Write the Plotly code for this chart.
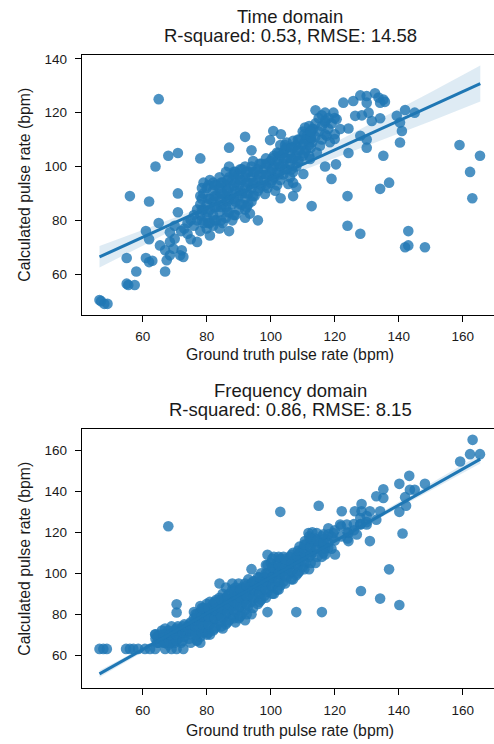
import plotly.graph_objects as go

# ---------------- DATA ----------------
# Time domain: ground truth (x) vs calculated (y)
time_truth = [
    65, 64, 68, 71, 78, 56, 62, 71, 71, 65,
    61, 62, 55, 61, 62, 63, 58, 67, 55, 55.5,
    57.5, 46.5, 47, 48, 49, 92, 87, 94, 87, 88.5,
    87, 96, 92, 93.5, 77, 81, 75, 74, 65.4, 67,
    68.5, 69.6, 71.7, 72.7, 67.5, 68.5, 70, 72.2, 68.5, 73,
    124, 124, 128, 119, 112.8, 134.2, 137, 135.2, 124.3, 120.4,
    117, 130, 140.4, 141, 140.4, 139.4, 142, 145, 143, 143,
    142, 148.2, 159, 162.3, 163, 165.4, 114, 122.7, 125.8, 128,
    130, 132.6, 133.7, 135.2, 135.7, 134.2, 130, 126.4, 128.5, 130.6,
    131.6, 134.2, 119.6, 120.6, 117, 121.7, 124.3, 128, 130, 117.5,
    115.4, 111.3, 110.7, 113.3, 112.7, 118.5, 120, 114.4, 112.3, 110.2,
    107, 107, 108, 105.5, 103.1, 101.4, 98.2, 100.8, 103.2, 99.8,
    105, 107, 104.5, 102, 70, 72, 74, 75,
    76, 76, 77, 77, 78, 78, 78, 78, 79, 79, 79, 79,
    80, 80, 80, 80, 81, 81, 81, 81, 82, 82, 82, 82, 82,
    83, 83, 83, 83, 84, 84, 84, 84, 84, 85, 85, 85, 85,
    86, 86, 86, 86, 86, 87, 87, 87, 87, 88, 88, 88, 88,
    89, 89, 89, 89, 89, 90, 90, 90, 90, 91, 91, 91, 91,
    92, 92, 92, 92, 92, 93, 93, 93, 93, 94, 94, 94, 94,
    95, 95, 95, 96, 96, 96, 97, 97, 97, 98, 98, 99, 99, 99,
    100, 100, 100, 101, 101, 101, 102, 102, 102, 103, 103, 103, 103,
    104, 104, 104, 105, 105, 105, 106, 106, 106, 107, 107, 107,
    108, 108, 108, 109, 109, 109, 110, 110, 110, 111, 111,
    112, 112, 112, 113, 113, 114, 114, 115, 115, 116, 116, 116,
    117, 117, 117, 118, 118, 119, 120, 120,
]
time_calc = [
    125, 100, 104, 105, 103, 89, 87, 90, 83, 79,
    76, 73, 66, 66, 64.5, 65, 61, 61, 56.5, 56,
    56, 50.4, 50, 49, 49, 111, 107, 106, 100, 98,
    76, 80, 84, 82.5, 72, 74.4, 73, 75, 70.7, 68.9,
    67, 69.5, 67, 66.4, 65.2, 72, 73.2, 68.9, 75.6, 77,
    89, 78, 75, 95.4, 85.3, 91.7, 94, 104, 105, 100.8,
    100, 107, 108.9, 113.2, 116.3, 118.8, 121, 120, 76, 70.7,
    70, 70, 108, 98, 88.2, 104, 120.9, 123.7, 124.3, 126.4,
    126.2, 127.2, 125.6, 124.9, 124, 123.7, 123.7, 118.8, 119, 120,
    116.9, 117.9, 120, 117.5, 116.3, 113.9, 114.1, 111.4, 110, 111.4,
    107.7, 111.4, 114.5, 113.9, 110.2, 109, 110.2, 105.2, 102.8, 97.2,
    94, 89, 92.3, 93.5, 88.2, 91, 89.8, 113.2, 112, 109.8,
    108.9, 109.5, 106.5, 105.2, 78, 76, 79, 80,
    78, 82, 80, 84, 76, 82, 86, 89, 79, 84, 90, 94,
    77, 81, 86, 92, 79, 84, 88, 95, 78, 82, 87, 91, 94,
    80, 85, 89, 93, 77, 83, 88, 92, 96, 79, 86, 90, 94,
    81, 85, 89, 93, 98, 83, 88, 92, 96, 80, 86, 90, 95,
    82, 87, 91, 94, 98, 84, 89, 93, 97, 86, 90, 95, 99,
    81, 88, 92, 96, 100, 86, 90, 94, 98, 87, 92, 96, 100,
    89, 94, 98, 91, 95, 99, 93, 97, 101, 95, 99, 92, 97, 101,
    94, 98, 102, 96, 100, 104, 93, 98, 102, 95, 100, 104, 108,
    97, 101, 105, 99, 103, 107, 96, 101, 105, 98, 103, 107,
    100, 104, 108, 102, 106, 110, 104, 108, 113, 106, 110,
    104, 108, 115, 109, 114, 111, 116, 113, 118, 110, 115, 119,
    112, 117, 120, 114, 118, 116, 112, 118,
]
# extra points inside the dense time-domain cluster
time_truth_fill = [
    78.5, 78.5, 78.5, 78.5, 80.5, 80.5, 80.5, 80.5,
    82.5, 82.5, 82.5, 82.5, 84.5, 84.5, 84.5, 84.5,
    86.5, 86.5, 86.5, 86.5, 88.5, 88.5, 88.5, 88.5,
    90.5, 90.5, 90.5, 90.5, 92.5, 92.5, 92.5, 92.5,
    94.5, 94.5, 94.5, 94.5, 96.5, 96.5, 96.5,
    98.5, 98.5, 98.5, 98.5, 100.5, 100.5, 100.5,
    102.5, 102.5, 102.5, 104.5, 104.5, 104.5,
    106.5, 106.5, 106.5, 108.5, 108.5, 108.5,
    110.5, 110.5, 110.5, 112.5, 112.5, 112.5,
]
time_calc_fill = [
    80, 84, 88, 92, 79, 83, 88, 93,
    80, 85, 89, 93, 80, 85, 90, 94,
    83, 87, 91, 95, 82, 88, 93, 97,
    86, 91, 95, 99, 85, 90, 94, 98,
    89, 94, 98, 102, 92, 97, 101,
    93, 97, 101, 103, 95, 99, 103,
    97, 101, 105, 99, 103, 108,
    99, 103, 107, 102, 106, 110,
    105, 109, 112, 107, 111, 113,
]

# Frequency domain: ground truth (x) vs calculated (y)
freq_truth = [
    68, 103, 115, 99, 108, 116, 128.2, 134.2, 137, 140.2,
    131, 141.2, 140.2, 140.2, 143.3, 148.2, 143.5, 145, 142, 142.3,
    135.2, 135.2, 133, 128.4, 126.3, 128.4, 131, 134.2, 122.2, 159.2,
    162.3, 165.4, 163.1, 46.5, 47.7, 48.8, 54.8, 56, 57.1, 58.6,
    60.7, 62.3, 63.9, 67, 69, 70.6, 72.7, 70.6, 70.6, 63.9,
    65.4, 119.6, 120.1, 124.3, 124.3, 126.9, 121.7, 123.8, 111.8, 114.4,
    110.7, 112.8, 115.4, 117, 118, 128, 130, 133, 76.9, 75,
    78, 80,
    64, 64, 65, 65, 66, 66, 67, 67, 67, 68, 68, 68, 69, 69, 69,
    70, 70, 70, 71, 71, 71, 72, 72, 72, 73, 73, 73, 74, 74, 75, 75, 75,
    76, 76, 76, 76, 77, 77, 77, 77, 78, 78, 78, 78, 78, 79, 79, 79, 79,
    80, 80, 80, 80, 81, 81, 81, 81, 81, 82, 82, 82, 82, 83, 83, 83, 83,
    84, 84, 84, 84, 84, 85, 85, 85, 85, 85, 86, 86, 86, 86, 86,
    87, 87, 87, 87, 88, 88, 88, 88, 88, 89, 89, 89, 89, 89,
    90, 90, 90, 90, 90, 91, 91, 91, 91, 92, 92, 92, 92, 92,
    93, 93, 93, 93, 94, 94, 94, 94, 94, 95, 95, 95, 96, 96, 96, 96,
    97, 97, 97, 97, 98, 98, 98, 99, 99, 99, 99, 99,
    100, 100, 100, 100, 101, 101, 101, 101, 101, 102, 102, 102, 102,
    103, 103, 103, 103, 104, 104, 104, 104, 105, 105, 105, 106, 106, 106,
    107, 107, 107, 107, 108, 108, 108, 109, 109, 109, 109, 110, 110, 110,
    111, 111, 111, 112, 112, 112, 112, 113, 113, 113, 114, 114, 114,
    116, 116, 116, 117, 117, 118, 118, 118, 119, 119, 120, 120,
    122, 122, 124, 124, 126, 126, 128, 128, 130, 130,
]
freq_calc = [
    123, 130, 133, 81, 81, 81, 91.3, 87.6, 101.9, 84.5,
    115.7, 119.4, 130, 143.7, 147.6, 143.7, 140.8, 140.8, 137.2, 133,
    141, 136.8, 137.6, 133.8, 130.3, 130.3, 130.3, 130.3, 130.3, 154.6,
    158.2, 158.2, 165.2, 63, 63, 63, 63, 63, 63, 63,
    63, 63, 63, 63, 63, 63, 63, 84.8, 80.8, 70.2,
    67.8, 119.7, 109.2, 115.7, 119.7, 118.9, 123.8, 123.8, 119.7, 119.7,
    115.7, 116.5, 114.9, 109.2, 112.4, 123.8, 123.8, 126.2, 67.2, 66,
    66, 70,
    68, 70, 66, 70, 68, 72, 66, 70, 73, 65, 68, 72, 67, 70, 74,
    66, 69, 72, 68, 71, 74, 66, 70, 73, 69, 72, 75, 71, 74, 70, 73, 76,
    72, 75, 78, 81, 67, 71, 76, 80, 69, 73, 77, 81, 84, 71, 75, 79, 83,
    73, 77, 81, 85, 70, 75, 79, 83, 86, 72, 77, 81, 85, 74, 79, 83, 87,
    76, 80, 84, 88, 95, 73, 78, 82, 86, 90, 75, 80, 84, 88, 93,
    77, 82, 86, 90, 79, 84, 88, 92, 95, 76, 81, 85, 89, 93,
    78, 83, 87, 91, 95, 80, 85, 89, 93, 77, 82, 87, 91, 95,
    84, 89, 93, 97, 80, 86, 91, 95, 102, 88, 92, 96, 85, 90, 94, 98,
    87, 92, 96, 100, 89, 94, 98, 91, 96, 100, 104, 109,
    93, 97, 101, 105, 90, 95, 99, 103, 108, 92, 97, 101, 105,
    94, 99, 103, 107, 96, 101, 105, 108, 98, 102, 106, 100, 104, 108,
    97, 102, 106, 110, 99, 104, 108, 101, 106, 110, 113, 103, 108, 112,
    105, 110, 114, 102, 108, 113, 118, 110, 115, 120, 105, 112, 117,
    108, 114, 118, 112, 117, 115, 119, 122, 112, 118, 116, 121,
    118, 123, 117, 120, 121, 124, 124, 127, 125, 128,
]
# extra points inside the dense frequency-domain band
freq_truth_fill = [
    64.5, 64.5, 66.5, 66.5, 68.5, 68.5,
    70.5, 70.5, 70.5, 72.5, 72.5, 72.5, 74.5, 74.5, 74.5,
    76.5, 76.5, 76.5, 76.5, 78.5, 78.5, 78.5, 78.5,
    80.5, 80.5, 80.5, 80.5, 82.5, 82.5, 82.5, 82.5,
    84.5, 84.5, 84.5, 84.5, 86.5, 86.5, 86.5, 86.5,
    88.5, 88.5, 88.5, 88.5, 90.5, 90.5, 90.5, 90.5,
    92.5, 92.5, 92.5, 92.5, 94.5, 94.5, 94.5, 94.5,
    96.5, 96.5, 96.5, 96.5, 98.5, 98.5, 98.5, 98.5, 98.5,
    100.5, 100.5, 100.5, 100.5, 100.5, 102.5, 102.5, 102.5, 102.5, 102.5,
    104.5, 104.5, 104.5, 104.5, 106.5, 106.5, 106.5, 106.5,
    108.5, 108.5, 108.5, 108.5, 110.5, 110.5, 110.5, 110.5,
    112.5, 112.5, 112.5, 112.5, 114.5, 114.5, 114.5,
    116.5, 116.5, 116.5,
]
freq_calc_fill = [
    66, 69, 66, 70, 66, 70,
    67, 70, 73, 67, 71, 74, 68, 72, 75,
    70, 74, 77, 80, 71, 75, 79, 83,
    71, 75, 79, 83, 73, 78, 82, 86,
    74, 79, 83, 87, 76, 81, 85, 89,
    78, 82, 86, 91, 79, 84, 88, 92,
    80, 85, 89, 94, 83, 88, 92, 96,
    86, 90, 94, 98, 88, 92, 96, 100, 104,
    90, 94, 98, 103, 107, 92, 96, 100, 104, 108,
    95, 99, 103, 107, 97, 101, 105, 109,
    100, 104, 108, 111, 102, 106, 110, 114,
    105, 109, 113, 117, 108, 112, 116,
    110, 115, 119,
]

# Regression lines and 95% CI bands
time_fit_x = [46.5, 165.5]
time_fit_y = [66.4, 130.8]
time_ci_x = [46.5, 60, 75, 90, 105, 120, 135, 150, 165.5]
time_ci_upper = [70.5, 76.4, 83.3, 90.8, 99.5, 108.8, 118.2, 127.6, 137.5]
time_ci_lower = [62.5, 70.6, 79.9, 88.8, 96.3, 103.2, 110.0, 116.8, 124.1]

freq_fit_x = [46.5, 165.5]
freq_fit_y = [50.8, 155.8]
freq_ci_x = [46.5, 60, 75, 90, 105, 120, 135, 150, 165.5]
freq_ci_upper = [52.4, 63.6, 76.5, 89.6, 103.0, 116.6, 130.3, 144.0, 158.0]
freq_ci_lower = [49.2, 61.4, 75.1, 88.6, 101.8, 114.8, 127.7, 140.6, 153.6]

x_ticks = [60, 80, 100, 120, 140, 160]
time_y_ticks = [60, 80, 100, 120, 140]
freq_y_ticks = [60, 80, 100, 120, 140, 160]

titles = ["Time domain", "R-squared: 0.53, RMSE: 14.58",
          "Frequency domain", "R-squared: 0.86, RMSE: 8.15"]
x_label = "Ground truth pulse rate (bpm)"
y_label = "Calculated pulse rate (bpm)"

assert len(time_truth) == len(time_calc)
assert len(freq_truth) == len(freq_calc)
assert len(time_truth_fill) == len(time_calc_fill)
assert len(freq_truth_fill) == len(freq_calc_fill)

# ---------------- FIGURE ----------------
W, H = 494, 744
BLUE = "#1f77b4"
FONT = "Liberation Sans, Arial, sans-serif"
TXT = "#1a1a1a"


def fx(p):
    return p / W


def fy(p):
    return 1 - p / H


fig = go.Figure()


def add_panel(xs, ys, fit_x, fit_y, ci_x, ci_up, ci_lo, xa, ya):
    fig.add_trace(go.Scatter(
        x=xs, y=ys, mode="markers", xaxis=xa, yaxis=ya,
        marker=dict(size=10.6, color=BLUE, opacity=0.8, line=dict(width=0)),
        showlegend=False, hoverinfo="skip"))
    fig.add_trace(go.Scatter(
        x=ci_x + ci_x[::-1], y=ci_up + ci_lo[::-1], mode="lines",
        fill="toself", fillcolor="rgba(31,119,180,0.15)",
        line=dict(width=0), xaxis=xa, yaxis=ya,
        showlegend=False, hoverinfo="skip"))
    fig.add_trace(go.Scatter(
        x=fit_x, y=fit_y, mode="lines", xaxis=xa, yaxis=ya,
        line=dict(color=BLUE, width=3),
        showlegend=False, hoverinfo="skip"))


add_panel(time_truth + time_truth_fill, time_calc + time_calc_fill,
          time_fit_x, time_fit_y,
          time_ci_x, time_ci_upper, time_ci_lower, "x", "y")
add_panel(freq_truth + freq_truth_fill, freq_calc + freq_calc_fill,
          freq_fit_x, freq_fit_y,
          freq_ci_x, freq_ci_upper, freq_ci_lower, "x2", "y2")

axis_common = dict(
    showgrid=False, zeroline=False, showline=True, linecolor="black",
    linewidth=1.2, ticks="outside", ticklen=6, tickwidth=1.1,
    tickcolor="black", tickfont=dict(family=FONT, size=13.5, color=TXT),
)

x_range = [41.03, 169.78]
fig.update_layout(
    width=W, height=H, margin=dict(l=0, r=0, t=0, b=0),
    paper_bgcolor="white", plot_bgcolor="white",
    xaxis=dict(domain=[fx(82), 1], range=x_range, tickvals=x_ticks,
               anchor="y", mirror=True, ticklabelstandoff=3, **axis_common),
    yaxis=dict(domain=[fy(313), fy(52)], range=[44.95, 141.48],
               tickvals=time_y_ticks, anchor="x", ticklabelstandoff=5,
               **axis_common),
    xaxis2=dict(domain=[fx(82), 1], range=x_range, tickvals=x_ticks,
                anchor="y2", mirror=True, ticklabelstandoff=3, **axis_common),
    yaxis2=dict(domain=[fy(688), fy(428)], range=[43.79, 170.37],
                tickvals=freq_y_ticks, anchor="x2", ticklabelstandoff=5,
                **axis_common),
)

ann = []
title_font = dict(family=FONT, size=18.5, color=TXT)
label_font = dict(family=FONT, size=15.8, color=TXT)
cx = fx(290)
for text, ypx in [(titles[0], 13.3), (titles[1], 32.5),
                  (titles[2], 389), (titles[3], 408)]:
    ann.append(dict(text=text, x=cx, y=fy(ypx), xref="paper", yref="paper",
                    xanchor="center", yanchor="middle", showarrow=False,
                    font=title_font))
for ypx in [353, 730]:
    ann.append(dict(text=x_label, x=cx, y=fy(ypx), xref="paper", yref="paper",
                    xanchor="center", yanchor="middle", showarrow=False,
                    font=label_font))
for ypx in [182.5, 558]:
    ann.append(dict(text=y_label, x=fx(25), y=fy(ypx), xref="paper",
                    yref="paper", xanchor="center", yanchor="middle",
                    textangle=-90, showarrow=False, font=label_font))
fig.update_layout(annotations=ann)

fig.write_html(
    "out.html",
    config={"displayModeBar": False, "staticPlot": True},
    post_script="document.body.style.margin='0';"
                "document.body.style.padding='0';"
                "document.body.style.overflow='hidden';",
)
